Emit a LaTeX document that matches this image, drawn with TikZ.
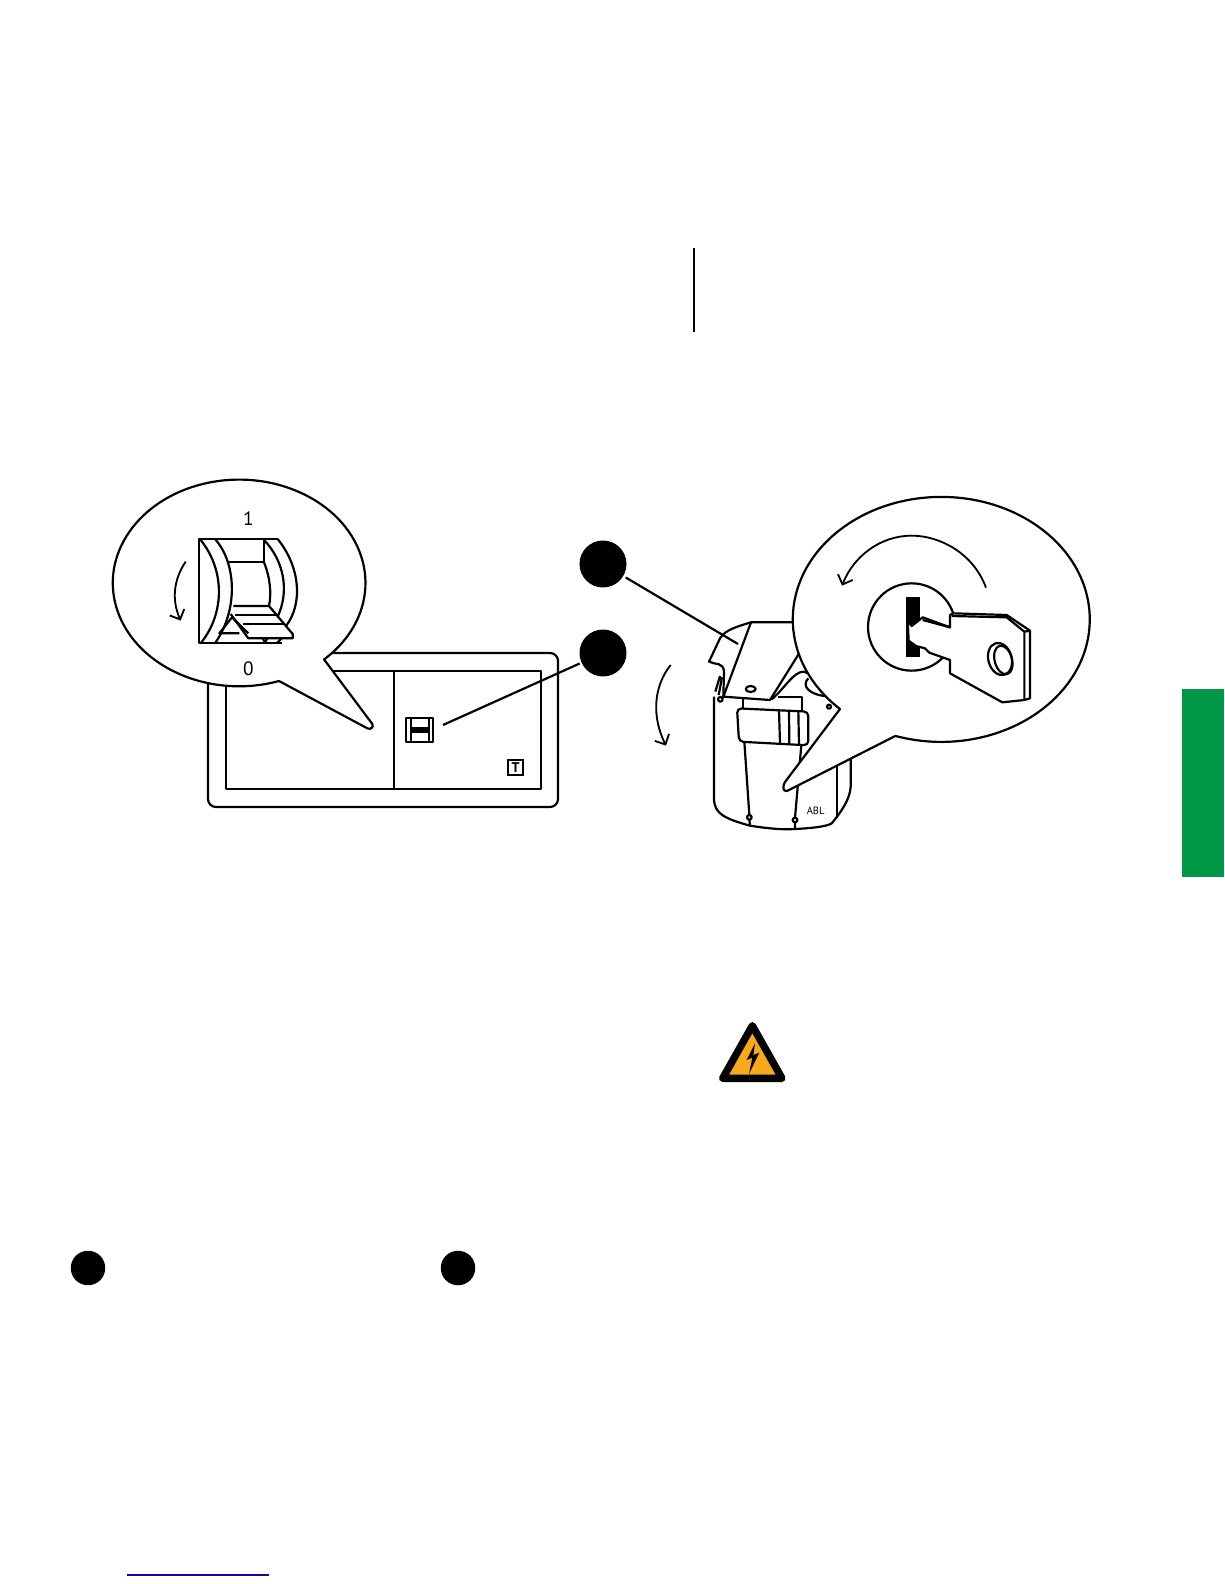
\documentclass[tikz,border=0pt]{standalone}
\usepackage{fontspec}
\setmainfont{PT Sans}
\usetikzlibrary{arrows.meta, positioning}
\definecolor{tabgreen}{HTML}{009846}
\definecolor{signorange}{HTML}{F9A81B}
\definecolor{linkblue}{HTML}{0A0AA0}
\tikzset{
  ink/.style={line width=1.25pt, line join=round},
  bubble/.style={ink, fill=white},
  turn/.style={line width=1.05pt, -{Straight Barb[length=4.5pt, width=9pt, line width=1.05pt]}},
  marker/.style={circle, fill=black, inner sep=0pt, minimum size=#1},
  rivet/.style={ink, fill=white},
}
\begin{document}
\begin{tikzpicture}[x=0.02cm, y=-0.02cm]
    \useasboundingbox (0,0) rectangle (1224,1584);

    % page furniture
    \fill[tabgreen] (1182,689) rectangle (1224,877);
    \draw[line width=0.7pt] (694,248) -- (694,332);
    \draw[linkblue, line width=0.7pt] (127,1575) -- (269,1575);
    \node[marker=0.69cm] (bullet1) at (88,1268) {};
    \node[marker=0.69cm] (bullet2) at (458,1268) {};

    % panel
    \draw[ink, rounded corners=4.5pt] (208,653) rectangle (558,807);
    \draw[ink] (226,671) rectangle (541,789);
    \draw[ink] (394,671) -- (394,789);
    \begin{scope}[shift={(380,690)}, scale=1/3]
      \draw[ink] (77,83) rectangle (160,156);
      \draw[ink] (92,83) -- (92,156) (146,83) -- (146,156);
      \fill (92,112) rectangle (146,128);
      \node[draw, line width=1.25pt, minimum size=0.3cm, inner sep=0pt, font=\bfseries\fontsize{8}{9}\selectfont] (testbox) at (407,232) {T};
    \end{scope}

    % left bubble
    \begin{scope}[shift={(100,470)}, scale=1/3]
      \draw[bubble] (537,633) arc[start angle=71.6, end angle=407.6, x radius=379, y radius=310]
        -- (672,568) -- (817,762) .. controls (822,772) and (812,780) .. (802,775) -- cycle;
      % switch
      \draw[ink] (533,207) -- (298,207) -- (298,520) -- (545,520);
      \draw[ink] (302,210) .. controls (375,300) and (375,430) .. (302,520);
      \draw[ink] (345,207) .. controls (410,280) and (415,420) .. (345,520);
      \draw[ink] (388,277) -- (492,277) -- (492,207);
      \draw[ink] (492,277) .. controls (510,320) and (515,370) .. (507,408);
      \draw[ink] (492,210) .. controls (550,270) and (570,360) .. (533,440);
      \draw[ink] (533,207) .. controls (600,290) and (610,400) .. (558,468);
      \draw[ink] (400,408) -- (507,408) -- (578,492) -- (578,505) -- (445,505) -- (392,432);
      \draw[ink] (405,435) -- (530,435) (430,462) -- (553,462);
      \draw[ink] (396,442) -- (445,490) (396,442) -- (358,490) -- (418,490);
      \draw[ink] (545,505) -- (530,520) (488,505) -- (495,518) -- (502,505);
      \draw[turn] (257,275) .. controls (220,330) and (215,390) .. (242,452);
      \node[font=\fontsize{11}{12}\selectfont] (labelone) at (445,147) {1};
      \node[font=\fontsize{11}{12}\selectfont] (labelzero) at (445,595) {0};
    \end{scope}

    % charger
    \begin{scope}[shift={(640,600)}, scale=1/3]
      \draw[ink] (222,290) -- (222,600) .. controls (225,640) and (250,655) .. (330,677)
        .. controls (380,685) and (430,690) .. (465,687) .. controls (510,685) and (560,680) .. (575,670)
        .. controls (600,640) and (630,600) .. (632,560) -- (632,470);
      \draw[ink] (592,490) -- (592,655);
      % open flap
      \draw[ink] (480,67) -- (333,67) -- (250,290) -- (390,300) -- (490,140);
      \draw[ink] (333,67) .. controls (290,80) and (255,90) .. (240,115) -- (207,185)
        .. controls (225,195) and (250,185) .. (252,215) -- (250,290);
      \draw[ink] (240,228) -- (226,275) (246,232) -- (236,285);
      \draw[ink] (395,298) .. controls (430,270) and (460,215) .. (490,215) -- (520,225);
      \draw[ink] (415,290) -- (487,290) -- (487,335);
      \draw[ink] (310,295) -- (310,325);
      \draw[ink] (505,235) .. controls (485,255) and (500,285) .. (570,290);
      \draw[rivet] (332,267) ellipse (15 and 9);
      \draw[rivet] (241,298) circle (7);
      \draw[rivet] (567,320) circle (6);
      % latch
      \draw[ink, fill=white, rounded corners=2.5pt] (291,325) -- (505,335) -- (505,436) -- (297,425) -- cycle;
      \draw[ink] (417,332) -- (420,430) (447,333) -- (448,433) (475,335) -- (477,435);
      \draw[ink] (313,425) -- (328,645) (328,659) -- (330,677);
      \draw[ink] (484,435) -- (465,653) (465,667) -- (465,687);
      \draw[rivet] (328,652) circle (7);
      \draw[rivet] (465,660) circle (7);
      \node[font=\fontsize{6}{7}\selectfont] (brand) at (527,632) {ABL};
      \draw[turn] (92,195) .. controls (40,260) and (35,350) .. (78,437);
    \end{scope}

    % right bubble
    \draw[bubble] (840,709) arc[start angle=133, end angle=468, x radius=148.5, y radius=122.5]
      -- (787,791) .. controls (782,792) and (783,785) .. (785,782) -- cycle;
    \begin{scope}[shift={(840,520)}, scale=1/3]
      \draw[ink] (215,321) circle (131);
      \fill (199,231) rectangle (240,410);
      \draw[ink, fill=white] (330,285) -- (340,280) -- (500,285) -- (570,332) -- (570,535) -- (553,540)
        -- (487,547) -- (330,460) -- (330,420) -- (268,398) -- (255,385) -- (228,378) -- (206,362)
        -- (203,300) -- (215,318) -- (248,292) -- (330,322) -- cycle;
      \draw[ink] (335,288) -- (500,292) -- (553,335) -- (553,540) (553,335) -- (570,332) (500,285) -- (500,292);
      \draw[ink] (248,300) -- (330,322);
      \draw[ink, rotate around={15:(480,417)}] (480,417) ellipse (35 and 49);
      \draw[ink, rotate around={15:(490,420)}] (490,420) ellipse (26 and 44);
      \draw[turn] (438,203) .. controls (400,100) and (300,47) .. (215,47) .. controls (120,47) and (40,110) .. (6,197);
    \end{scope}

    % call-outs
    \node[marker=0.94cm] (callA) at (603,564) {};
    \node[marker=0.94cm] (callB) at (603,653) {};
    \coordinate (flapend) at (738,644);
    \coordinate (switchend) at (443,725);
    \draw[ink, shorten <=1.5pt] (callA) -- (flapend);
    \draw[ink, shorten <=1pt] (callB) -- (switchend);

    % warning sign
    \begin{scope}[shift={(700,1010)}, scale=1/3]
      \draw[line width=4.2pt, line join=round, fill=signorange] (157,47) -- (246,205) -- (68,205) -- cycle;
      \fill[black] (165,100) -- (140,150) -- (157,143) -- (147,192) -- (178,128) -- (160,135) -- cycle;
    \end{scope}
\end{tikzpicture}
\end{document}
